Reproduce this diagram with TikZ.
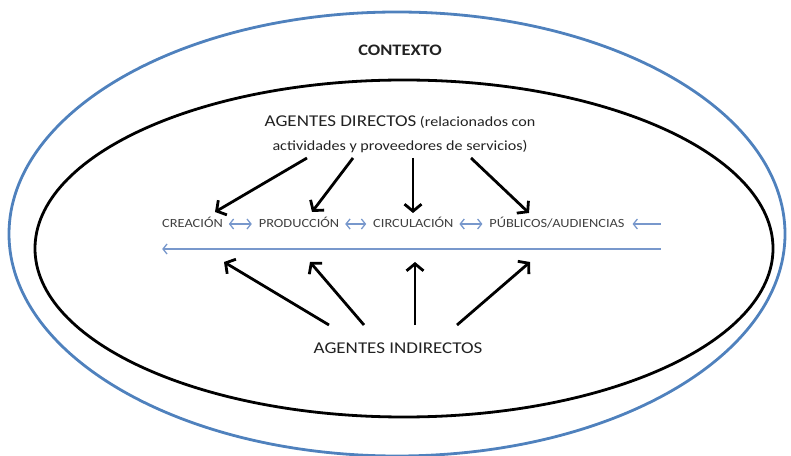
\documentclass[tikz,border=0pt]{standalone}
\usepackage{fontspec}
\setmainfont{Carlito}[FakeStretch=1.15]
\usepackage{tikz}
\usetikzlibrary{arrows.meta,positioning,shapes.geometric}
\definecolor{ctxblue}{RGB}{79,129,189}
\definecolor{flowblue}{RGB}{120,152,204}
\definecolor{rowgrey}{RGB}{64,64,64}
\definecolor{textgrey}{RGB}{34,34,34}
\tikzset{
	context diagram/.style={
		x=1pt, y=1pt,
		every node/.style={inner sep=0pt, outer sep=0pt, text=textgrey},
		ring/.style 2 args={draw, shape=ellipse, line width=2.8pt,
			minimum width=##1, minimum height=##2},
		stage/.style={font=\fontsize{12.5}{14}\selectfont, text=rowgrey,
			text height=0.64em, text depth=0pt},
		flow/.style={flowblue, line width=1.3pt,
			{Straight Barb[length=4pt,width=10pt]}-{Straight Barb[length=4pt,width=10pt]},
			shorten <=6pt, shorten >=7pt},
		back/.style={flowblue, line width=1.3pt, {Straight Barb[length=4pt,width=10pt]}-},
		agent/.style={line width=2.8pt, -{Straight Barb[length=7pt,width=17pt]}}
	}
}

\begin{document}
\begin{tikzpicture}[context diagram]
   \useasboundingbox (0,0) rectangle (791,455);
   \node[ring={776pt}{444pt}, draw=ctxblue] (ctx) at (397,221) {};
   \node[ring={738pt}{337pt}] (sector) at (404,206.5) {};
   \node[font=\bfseries\fontsize{16}{19}\selectfont] (ctx name) at (400,405) {CONTEXTO};
   \node[align=center, font=\fontsize{14}{24}\selectfont] (direct) at (400,321)
      {{\fontsize{16.5}{24}\selectfont AGENTES DIRECTOS} (relacionados con\\
       actividades y proveedores de servicios)};
   \node[font=\fontsize{16.5}{19}\selectfont] (indirect) at (398,107) {AGENTES INDIRECTOS};
   % cadena de valor
   \node[stage] (creacion) at (192.5,231) {CREACIÓN};
   \node[stage, base right=36pt of creacion] (produccion) {PRODUCCIÓN};
   \node[stage, base right=34pt of produccion] (circulacion) {CIRCULACIÓN};
   \node[stage, base right=36pt of circulacion] (publicos) {PÚBLICOS/AUDIENCIAS};
   \coordinate[right=36pt of publicos] (tail);
   \coordinate (loop east) at (tail |- 0,206);
   \coordinate (loop west) at (creacion.west |- 0,206);
   \draw[flow] (creacion.east) -- (produccion.west);
   \draw[flow] (produccion.east) -- (circulacion.west);
   \draw[flow] (circulacion.east) -- (publicos.west);
   \draw[back, shorten <=8pt] (publicos.east) -- (tail);
   \draw[back] (loop west) -- (loop east);
   % agentes
   \coordinate (direct1) at (307,297);  \coordinate (up1) at (215,243);
   \coordinate (direct2) at (353,297);  \coordinate (up2) at (312,243);
   \coordinate (direct3) at (413,297);  \coordinate (up3) at (413,242);
   \coordinate (direct4) at (471,297);  \coordinate (up4) at (529,242);
   \coordinate (indirect1) at (329,130); \coordinate (down1) at (224,193);
   \coordinate (indirect2) at (364,130); \coordinate (down2) at (310,193);
   \coordinate (indirect3) at (415,130); \coordinate (down3) at (415,193);
   \coordinate (indirect4) at (457,130); \coordinate (down4) at (530,193);
   \foreach \i in {1,...,4} {
      \draw[agent] (direct\i) -- (up\i);
      \draw[agent] (indirect\i) -- (down\i);
   }
\end{tikzpicture}
\end{document}
